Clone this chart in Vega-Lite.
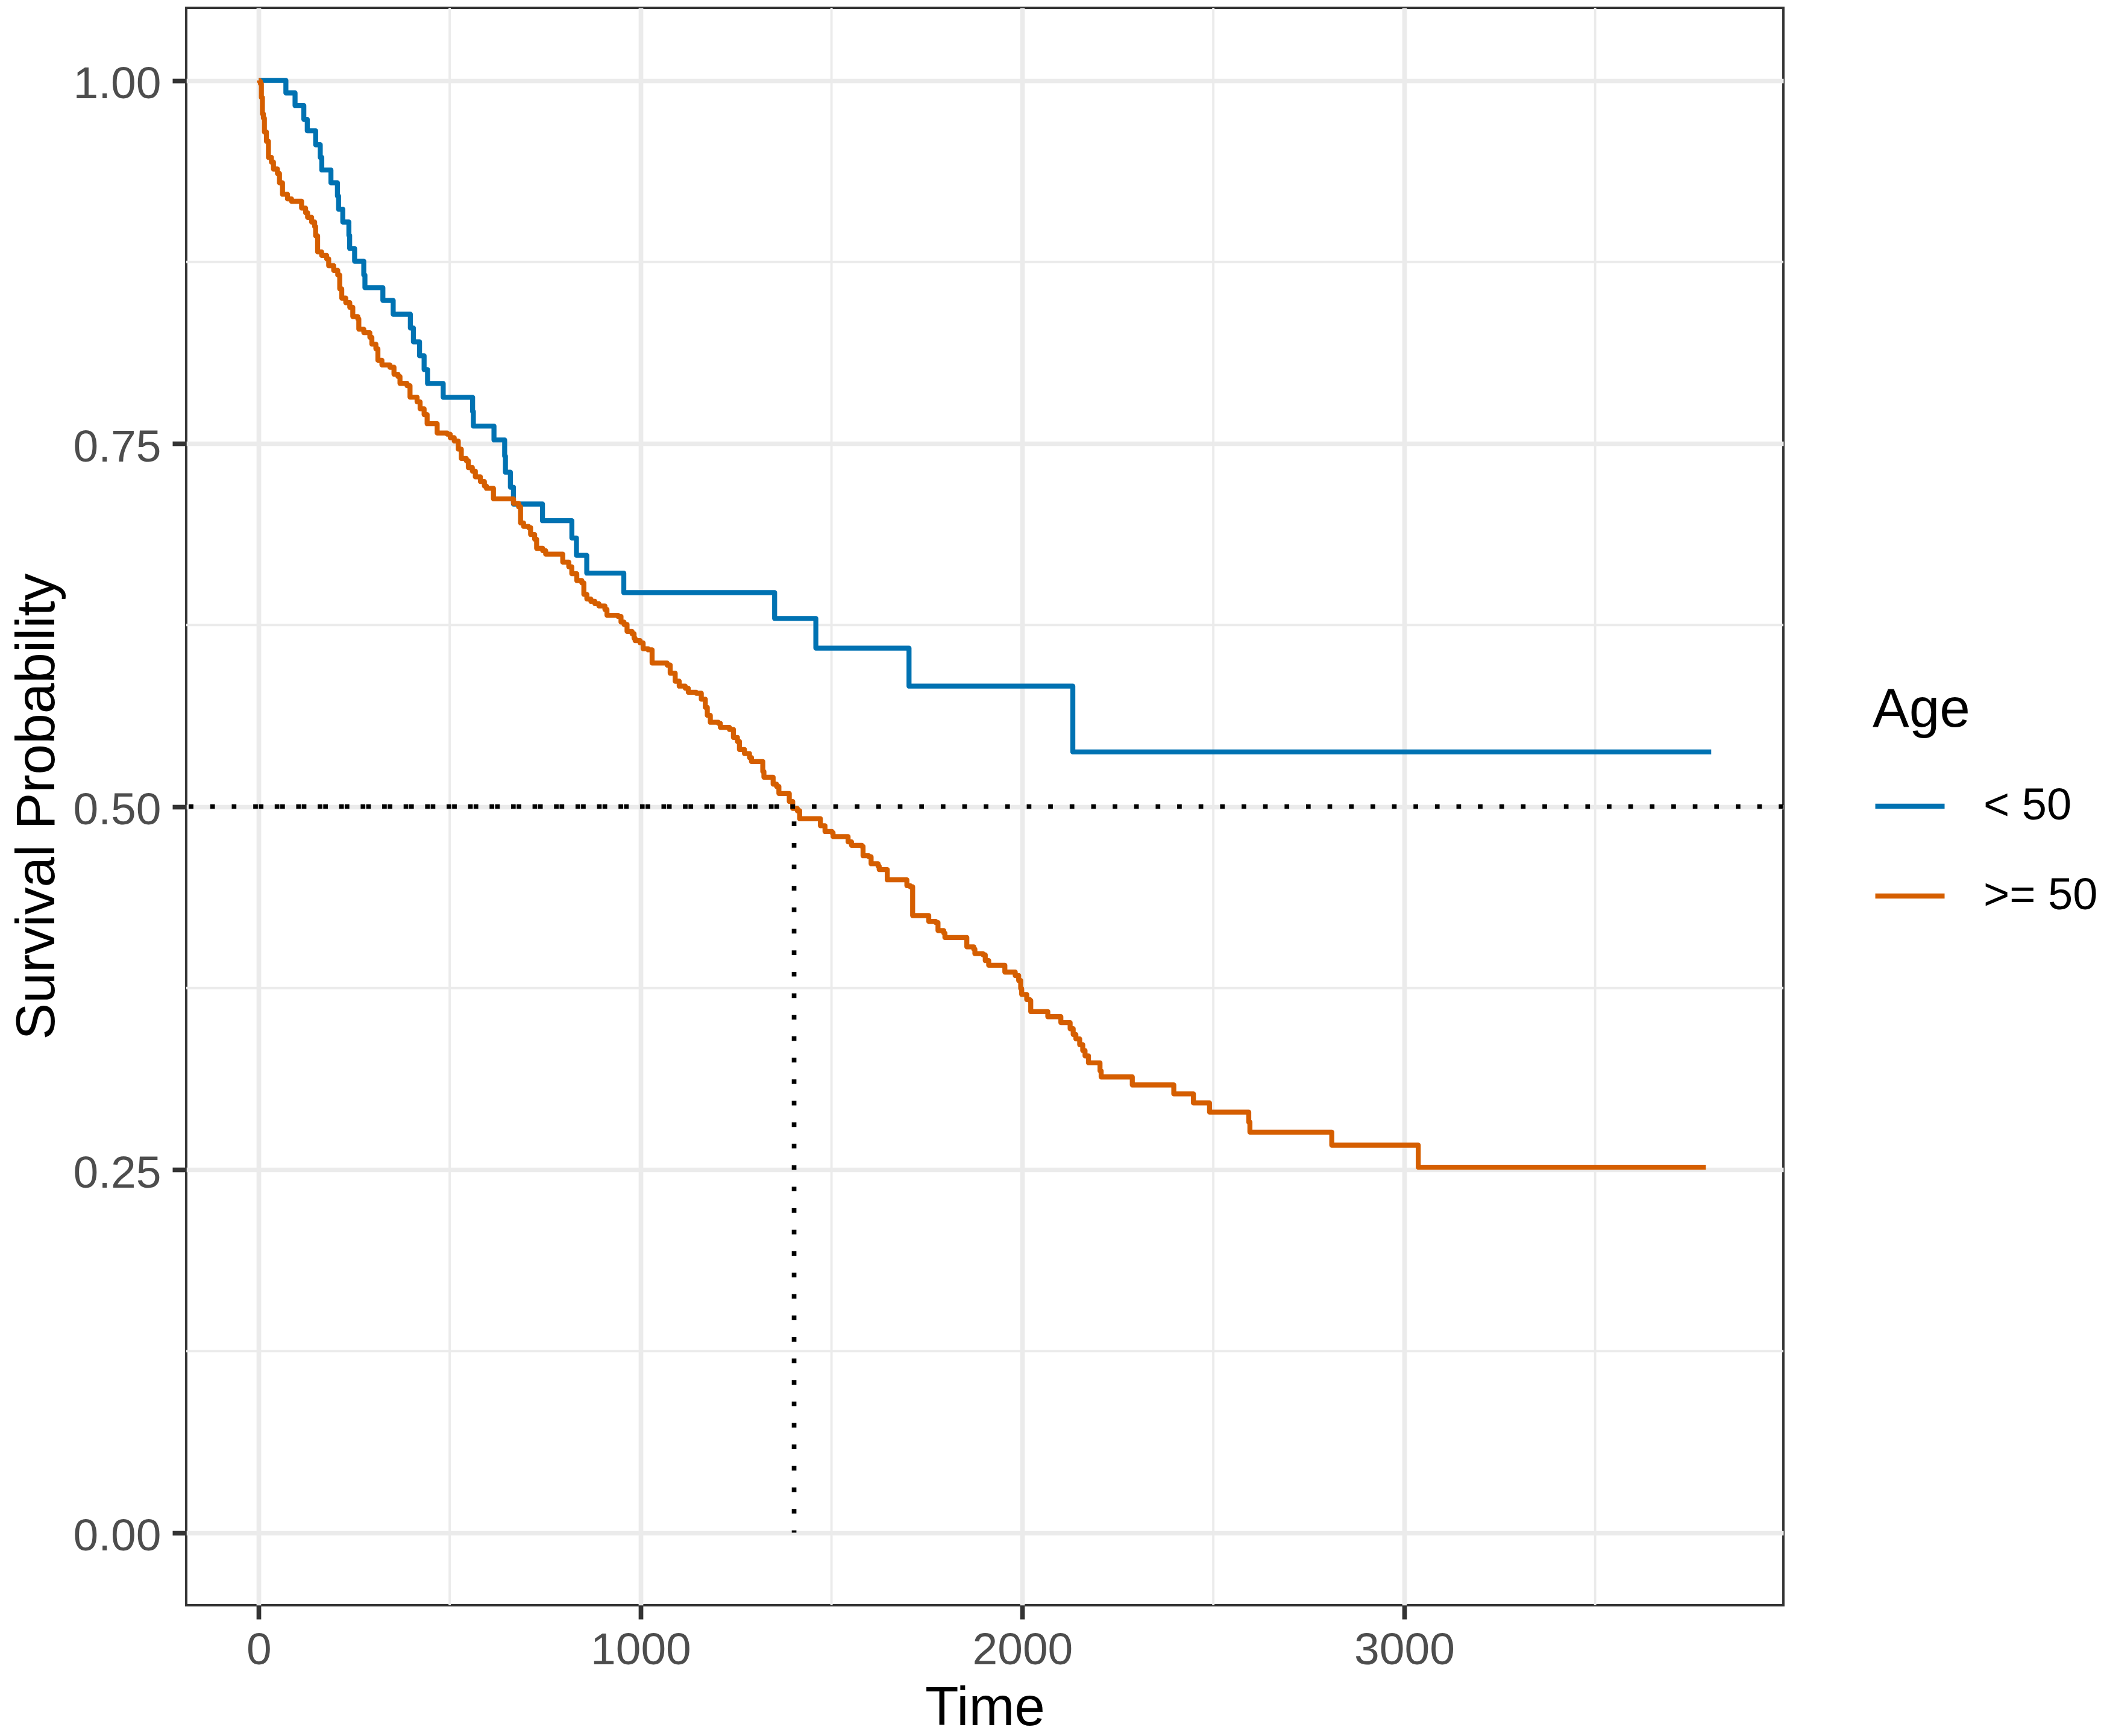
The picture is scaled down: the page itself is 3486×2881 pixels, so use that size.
{
  "$schema": "https://vega.github.io/schema/vega-lite/v6.json",
  "autosize": {"type": "none"},
  "width": 2650,
  "height": 2651,
  "padding": {"left": 309, "top": 13, "right": 527, "bottom": 217},
  "background": "white",
  "config": {
    "view": {"stroke": "#333333", "strokeWidth": 3.9},
    "font": "Liberation Sans",
    "axis": {
      "domain": false,
      "grid": true,
      "gridColor": "#EBEBEB",
      "gridWidth": 7.7,
      "tickColor": "#333333",
      "tickWidth": 7.7,
      "tickSize": 23,
      "labelFont": "Liberation Sans",
      "labelFontSize": 75,
      "labelColor": "#4D4D4D",
      "labelLimit": 1000,
      "titleFont": "Liberation Sans",
      "titleFontSize": 91,
      "titleFontWeight": "normal",
      "titleColor": "#000000",
      "titleLimit": 3000
    },
    "legend": {
      "titleFont": "Liberation Sans",
      "titleFontSize": 91,
      "titleFontWeight": "normal",
      "titleColor": "#000000",
      "labelFont": "Liberation Sans",
      "labelFontSize": 74,
      "labelColor": "#000000",
      "labelLimit": 1000
    }
  },
  "datasets": {
    "km": [
      {"g": "< 50", "t": 0, "S": 1.0},
      {"g": "< 50", "t": 71, "S": 0.9914},
      {"g": "< 50", "t": 95, "S": 0.9827},
      {"g": "< 50", "t": 118, "S": 0.9732},
      {"g": "< 50", "t": 127, "S": 0.9653},
      {"g": "< 50", "t": 149, "S": 0.9557},
      {"g": "< 50", "t": 161, "S": 0.947},
      {"g": "< 50", "t": 165, "S": 0.9383},
      {"g": "< 50", "t": 189, "S": 0.9295},
      {"g": "< 50", "t": 206, "S": 0.9204},
      {"g": "< 50", "t": 209, "S": 0.9113},
      {"g": "< 50", "t": 220, "S": 0.9025},
      {"g": "< 50", "t": 236, "S": 0.8933},
      {"g": "< 50", "t": 238, "S": 0.8843},
      {"g": "< 50", "t": 251, "S": 0.8755},
      {"g": "< 50", "t": 275, "S": 0.866},
      {"g": "< 50", "t": 278, "S": 0.8573},
      {"g": "< 50", "t": 325, "S": 0.8485},
      {"g": "< 50", "t": 352, "S": 0.839},
      {"g": "< 50", "t": 397, "S": 0.8295},
      {"g": "< 50", "t": 405, "S": 0.82},
      {"g": "< 50", "t": 421, "S": 0.8104},
      {"g": "< 50", "t": 433, "S": 0.8009},
      {"g": "< 50", "t": 442, "S": 0.7913},
      {"g": "< 50", "t": 483, "S": 0.7818},
      {"g": "< 50", "t": 560, "S": 0.772},
      {"g": "< 50", "t": 562, "S": 0.762},
      {"g": "< 50", "t": 616, "S": 0.7524},
      {"g": "< 50", "t": 644, "S": 0.7413},
      {"g": "< 50", "t": 646, "S": 0.7302},
      {"g": "< 50", "t": 659, "S": 0.7199},
      {"g": "< 50", "t": 667, "S": 0.7083},
      {"g": "< 50", "t": 743, "S": 0.6968},
      {"g": "< 50", "t": 820, "S": 0.6849},
      {"g": "< 50", "t": 832, "S": 0.673},
      {"g": "< 50", "t": 859, "S": 0.6607},
      {"g": "< 50", "t": 956, "S": 0.6473},
      {"g": "< 50", "t": 1351, "S": 0.6295},
      {"g": "< 50", "t": 1459, "S": 0.6091},
      {"g": "< 50", "t": 1703, "S": 0.5829},
      {"g": "< 50", "t": 2132, "S": 0.5376},
      {"g": "< 50", "t": 3804, "S": 0.5376},
      {"g": ">= 50", "t": 0, "S": 1.0},
      {"g": ">= 50", "t": 1.6, "S": 0.9994},
      {"g": ">= 50", "t": 4.2, "S": 0.9978},
      {"g": ">= 50", "t": 6.8, "S": 0.9883},
      {"g": ">= 50", "t": 9.5, "S": 0.977},
      {"g": ">= 50", "t": 12.1, "S": 0.974},
      {"g": ">= 50", "t": 14.7, "S": 0.9645},
      {"g": ">= 50", "t": 20, "S": 0.9581},
      {"g": ">= 50", "t": 25.3, "S": 0.947},
      {"g": ">= 50", "t": 33.1, "S": 0.9438},
      {"g": ">= 50", "t": 38.4, "S": 0.939},
      {"g": ">= 50", "t": 48.9, "S": 0.9359},
      {"g": ">= 50", "t": 54.2, "S": 0.9295},
      {"g": ">= 50", "t": 62.1, "S": 0.9216},
      {"g": ">= 50", "t": 75.2, "S": 0.9184},
      {"g": ">= 50", "t": 85.8, "S": 0.9168},
      {"g": ">= 50", "t": 112.1, "S": 0.9121},
      {"g": ">= 50", "t": 122.6, "S": 0.9089},
      {"g": ">= 50", "t": 127.8, "S": 0.9057},
      {"g": ">= 50", "t": 138.4, "S": 0.9025},
      {"g": ">= 50", "t": 146.3, "S": 0.8994},
      {"g": ">= 50", "t": 148.9, "S": 0.893},
      {"g": ">= 50", "t": 154.1, "S": 0.8819},
      {"g": ">= 50", "t": 164.7, "S": 0.8795},
      {"g": ">= 50", "t": 177.8, "S": 0.8771},
      {"g": ">= 50", "t": 183.1, "S": 0.8724},
      {"g": ">= 50", "t": 196.2, "S": 0.8692},
      {"g": ">= 50", "t": 206.8, "S": 0.866},
      {"g": ">= 50", "t": 212, "S": 0.8565},
      {"g": ">= 50", "t": 217.3, "S": 0.8501},
      {"g": ">= 50", "t": 227.8, "S": 0.847},
      {"g": ">= 50", "t": 238.3, "S": 0.8438},
      {"g": ">= 50", "t": 246.2, "S": 0.8374},
      {"g": ">= 50", "t": 259.4, "S": 0.8358},
      {"g": ">= 50", "t": 262, "S": 0.8287},
      {"g": ">= 50", "t": 275.1, "S": 0.8263},
      {"g": ">= 50", "t": 290.9, "S": 0.8231},
      {"g": ">= 50", "t": 296.2, "S": 0.8184},
      {"g": ">= 50", "t": 306.7, "S": 0.8152},
      {"g": ">= 50", "t": 312, "S": 0.8073},
      {"g": ">= 50", "t": 322.5, "S": 0.8041},
      {"g": ">= 50", "t": 343.5, "S": 0.8025},
      {"g": ">= 50", "t": 354.1, "S": 0.7977},
      {"g": ">= 50", "t": 364.6, "S": 0.7961},
      {"g": ">= 50", "t": 369.8, "S": 0.7914},
      {"g": ">= 50", "t": 388.3, "S": 0.7898},
      {"g": ">= 50", "t": 396.1, "S": 0.7819},
      {"g": ">= 50", "t": 414.6, "S": 0.7787},
      {"g": ">= 50", "t": 422.5, "S": 0.7739},
      {"g": ">= 50", "t": 433, "S": 0.7699},
      {"g": ">= 50", "t": 440.9, "S": 0.7636},
      {"g": ">= 50", "t": 467.2, "S": 0.7572},
      {"g": ">= 50", "t": 493.5, "S": 0.7564},
      {"g": ">= 50", "t": 501.4, "S": 0.754},
      {"g": ">= 50", "t": 511.9, "S": 0.7517},
      {"g": ">= 50", "t": 522.5, "S": 0.7461},
      {"g": ">= 50", "t": 530.4, "S": 0.7397},
      {"g": ">= 50", "t": 543.5, "S": 0.7381},
      {"g": ">= 50", "t": 548.8, "S": 0.7334},
      {"g": ">= 50", "t": 559.3, "S": 0.731},
      {"g": ">= 50", "t": 567.2, "S": 0.727},
      {"g": ">= 50", "t": 580.4, "S": 0.7238},
      {"g": ">= 50", "t": 590.9, "S": 0.7207},
      {"g": ">= 50", "t": 596.2, "S": 0.7191},
      {"g": ">= 50", "t": 614.6, "S": 0.7119},
      {"g": ">= 50", "t": 667.2, "S": 0.7088},
      {"g": ">= 50", "t": 680.4, "S": 0.7064},
      {"g": ">= 50", "t": 685.6, "S": 0.6953},
      {"g": ">= 50", "t": 693.5, "S": 0.6929},
      {"g": ">= 50", "t": 706.7, "S": 0.6921},
      {"g": ">= 50", "t": 711.9, "S": 0.6873},
      {"g": ">= 50", "t": 722.5, "S": 0.6841},
      {"g": ">= 50", "t": 727.7, "S": 0.6778},
      {"g": ">= 50", "t": 743.5, "S": 0.6762},
      {"g": ">= 50", "t": 751.4, "S": 0.6738},
      {"g": ">= 50", "t": 796.1, "S": 0.6683},
      {"g": ">= 50", "t": 811.9, "S": 0.6651},
      {"g": ">= 50", "t": 819.8, "S": 0.6603},
      {"g": ">= 50", "t": 832.9, "S": 0.6556},
      {"g": ">= 50", "t": 846.1, "S": 0.654},
      {"g": ">= 50", "t": 851.4, "S": 0.6461},
      {"g": ">= 50", "t": 859.2, "S": 0.6429},
      {"g": ">= 50", "t": 869.8, "S": 0.6413},
      {"g": ">= 50", "t": 880.3, "S": 0.6397},
      {"g": ">= 50", "t": 890.8, "S": 0.6381},
      {"g": ">= 50", "t": 906.6, "S": 0.6357},
      {"g": ">= 50", "t": 911.9, "S": 0.6317},
      {"g": ">= 50", "t": 940.8, "S": 0.6309},
      {"g": ">= 50", "t": 948.7, "S": 0.627},
      {"g": ">= 50", "t": 956.6, "S": 0.6254},
      {"g": ">= 50", "t": 964.5, "S": 0.6206},
      {"g": ">= 50", "t": 977.6, "S": 0.619},
      {"g": ">= 50", "t": 982.9, "S": 0.6159},
      {"g": ">= 50", "t": 985.5, "S": 0.6143},
      {"g": ">= 50", "t": 998.7, "S": 0.6127},
      {"g": ">= 50", "t": 1006.6, "S": 0.6087},
      {"g": ">= 50", "t": 1019.7, "S": 0.6079},
      {"g": ">= 50", "t": 1030.1, "S": 0.5988},
      {"g": ">= 50", "t": 1069.6, "S": 0.5974},
      {"g": ">= 50", "t": 1077.5, "S": 0.5918},
      {"g": ">= 50", "t": 1090.6, "S": 0.5863},
      {"g": ">= 50", "t": 1101.1, "S": 0.5829},
      {"g": ">= 50", "t": 1116.9, "S": 0.5815},
      {"g": ">= 50", "t": 1124.8, "S": 0.5787},
      {"g": ">= 50", "t": 1145.8, "S": 0.578},
      {"g": ">= 50", "t": 1159, "S": 0.5739},
      {"g": ">= 50", "t": 1169.5, "S": 0.5683},
      {"g": ">= 50", "t": 1174.7, "S": 0.5628},
      {"g": ">= 50", "t": 1182.6, "S": 0.558},
      {"g": ">= 50", "t": 1203.7, "S": 0.5573},
      {"g": ">= 50", "t": 1208.9, "S": 0.5545},
      {"g": ">= 50", "t": 1232.6, "S": 0.5531},
      {"g": ">= 50", "t": 1243.1, "S": 0.5476},
      {"g": ">= 50", "t": 1253.6, "S": 0.5448},
      {"g": ">= 50", "t": 1258.9, "S": 0.5393},
      {"g": ">= 50", "t": 1272, "S": 0.5365},
      {"g": ">= 50", "t": 1285.2, "S": 0.5337},
      {"g": ">= 50", "t": 1290.4, "S": 0.531},
      {"g": ">= 50", "t": 1320, "S": 0.5241},
      {"g": ">= 50", "t": 1323, "S": 0.5202},
      {"g": ">= 50", "t": 1347.1, "S": 0.5154},
      {"g": ">= 50", "t": 1356.2, "S": 0.5138},
      {"g": ">= 50", "t": 1362.2, "S": 0.509},
      {"g": ">= 50", "t": 1389.4, "S": 0.5035},
      {"g": ">= 50", "t": 1398.4, "S": 0.4987},
      {"g": ">= 50", "t": 1410.5, "S": 0.4971},
      {"g": ">= 50", "t": 1416.6, "S": 0.4916},
      {"g": ">= 50", "t": 1470.9, "S": 0.4868},
      {"g": ">= 50", "t": 1483, "S": 0.4828},
      {"g": ">= 50", "t": 1501.1, "S": 0.482},
      {"g": ">= 50", "t": 1504.1, "S": 0.4793},
      {"g": ">= 50", "t": 1543.4, "S": 0.4757},
      {"g": ">= 50", "t": 1552.4, "S": 0.4733},
      {"g": ">= 50", "t": 1579.6, "S": 0.4725},
      {"g": ">= 50", "t": 1582.6, "S": 0.4661},
      {"g": ">= 50", "t": 1597.7, "S": 0.4654},
      {"g": ">= 50", "t": 1603.7, "S": 0.4606},
      {"g": ">= 50", "t": 1621.9, "S": 0.459},
      {"g": ">= 50", "t": 1624.9, "S": 0.4566},
      {"g": ">= 50", "t": 1646, "S": 0.4495},
      {"g": ">= 50", "t": 1697.4, "S": 0.4455},
      {"g": ">= 50", "t": 1706.4, "S": 0.4447},
      {"g": ">= 50", "t": 1712.5, "S": 0.4249},
      {"g": ">= 50", "t": 1754.7, "S": 0.4209},
      {"g": ">= 50", "t": 1772.9, "S": 0.4201},
      {"g": ">= 50", "t": 1778.9, "S": 0.4146},
      {"g": ">= 50", "t": 1794, "S": 0.4129},
      {"g": ">= 50", "t": 1797, "S": 0.4098},
      {"g": ">= 50", "t": 1854.4, "S": 0.4034},
      {"g": ">= 50", "t": 1872.5, "S": 0.4018},
      {"g": ">= 50", "t": 1875.5, "S": 0.3987},
      {"g": ">= 50", "t": 1896.7, "S": 0.3979},
      {"g": ">= 50", "t": 1902.7, "S": 0.3939},
      {"g": ">= 50", "t": 1911.7, "S": 0.3907},
      {"g": ">= 50", "t": 1954, "S": 0.386},
      {"g": ">= 50", "t": 1981.2, "S": 0.3836},
      {"g": ">= 50", "t": 1990.2, "S": 0.3802},
      {"g": ">= 50", "t": 1995.5, "S": 0.3747},
      {"g": ">= 50", "t": 1998.1, "S": 0.3706},
      {"g": ">= 50", "t": 2011.3, "S": 0.3671},
      {"g": ">= 50", "t": 2019.2, "S": 0.3664},
      {"g": ">= 50", "t": 2021.8, "S": 0.3588},
      {"g": ">= 50", "t": 2066.5, "S": 0.3553},
      {"g": ">= 50", "t": 2100.7, "S": 0.3512},
      {"g": ">= 50", "t": 2125, "S": 0.347},
      {"g": ">= 50", "t": 2133, "S": 0.343},
      {"g": ">= 50", "t": 2140, "S": 0.34},
      {"g": ">= 50", "t": 2150, "S": 0.336},
      {"g": ">= 50", "t": 2158, "S": 0.332},
      {"g": ">= 50", "t": 2164, "S": 0.3283},
      {"g": ">= 50", "t": 2173, "S": 0.3235},
      {"g": ">= 50", "t": 2203.2, "S": 0.318},
      {"g": ">= 50", "t": 2206.2, "S": 0.3138},
      {"g": ">= 50", "t": 2287.8, "S": 0.3083},
      {"g": ">= 50", "t": 2396.5, "S": 0.3021},
      {"g": ">= 50", "t": 2447.9, "S": 0.2959},
      {"g": ">= 50", "t": 2490.1, "S": 0.2896},
      {"g": ">= 50", "t": 2592.8, "S": 0.2827},
      {"g": ">= 50", "t": 2595.8, "S": 0.2758},
      {"g": ">= 50", "t": 2810.2, "S": 0.2668},
      {"g": ">= 50", "t": 3036.7, "S": 0.2516},
      {"g": ">= 50", "t": 3790, "S": 0.2516}
    ],
    "minorX": [{"t": 500}, {"t": 1500}, {"t": 2500}, {"t": 3500}],
    "minorY": [{"S": 0.125}, {"S": 0.375}, {"S": 0.625}, {"S": 0.875}],
    "half": [{"S": 0.5}],
    "median": [{"t": 0, "t2": 1402, "S": 0.5, "S2": 0}]
  },
  "layer": [
    {
      "data": {"name": "minorX"},
      "mark": {"type": "rule", "color": "#EBEBEB", "strokeWidth": 3.85},
      "encoding": {
        "x": {"field": "t", "type": "quantitative", "scale": {"domain": [-190, 3993], "nice": false, "zero": false},
              "axis": {"values": [0, 1000, 2000, 3000], "format": "d", "title": "Time", "labelPadding": 15, "titleX": 1325, "titleY": 198, "titleBaseline": "alphabetic", "titleAlign": "center", "titleAnchor": null}}
      }
    },
    {
      "data": {"name": "minorY"},
      "mark": {"type": "rule", "color": "#EBEBEB", "strokeWidth": 3.85},
      "encoding": {
        "y": {"field": "S", "type": "quantitative", "scale": {"domain": [-0.05, 1.05], "nice": false, "zero": false},
              "axis": {"values": [0, 0.25, 0.5, 0.75, 1], "format": ".2f", "title": "Survival Probability", "labelPadding": 19, "labelOffset": 6, "titleX": -220, "titleY": 1325, "titleAngle": 270, "titleBaseline": "alphabetic", "titleAlign": "center", "titleAnchor": null}}
      }
    },
    {
      "data": {"name": "km"},
      "mark": {"type": "line", "interpolate": "step-after", "strokeWidth": 8.3, "strokeJoin": "round", "strokeCap": "butt"},
      "encoding": {
        "x": {"field": "t", "type": "quantitative", "scale": {"domain": [-190, 3993], "nice": false, "zero": false},
              "axis": {"values": [0, 1000, 2000, 3000], "format": "d", "title": "Time", "labelPadding": 15, "titleX": 1325, "titleY": 198, "titleBaseline": "alphabetic", "titleAlign": "center", "titleAnchor": null}},
        "y": {"field": "S", "type": "quantitative", "scale": {"domain": [-0.05, 1.05], "nice": false, "zero": false},
              "axis": {"values": [0, 0.25, 0.5, 0.75, 1], "format": ".2f", "title": "Survival Probability", "labelPadding": 19, "labelOffset": 6, "titleX": -220, "titleY": 1325, "titleAngle": 270, "titleBaseline": "alphabetic", "titleAlign": "center", "titleAnchor": null}},
        "color": {"field": "g", "type": "nominal",
                  "scale": {"domain": ["< 50", ">= 50"], "range": ["#0072B2", "#D55E00"]},
                  "legend": {"title": "Age", "orient": "none", "legendX": 2798, "legendY": 1121, "padding": 0,
                             "symbolType": "stroke", "symbolSize": 13225, "symbolStrokeWidth": 8.3,
                             "labelOffset": 60, "titlePadding": 51, "rowPadding": 50}}
      }
    },
    {
      "data": {"name": "half"},
      "mark": {"type": "rule", "color": "#000000", "strokeWidth": 7.7, "strokeDash": [7.7, 27.95], "strokeCap": "butt"},
      "encoding": {
        "y": {"field": "S", "type": "quantitative"}
      }
    },
    {
      "data": {"name": "median"},
      "mark": {"type": "rule", "color": "#000000", "strokeWidth": 7.7, "strokeDash": [7.7, 27.95], "strokeCap": "butt"},
      "encoding": {
        "x": {"field": "t", "type": "quantitative"},
        "x2": {"field": "t2"},
        "y": {"field": "S", "type": "quantitative"}
      }
    },
    {
      "data": {"name": "median"},
      "mark": {"type": "rule", "color": "#000000", "strokeWidth": 7.7, "strokeDash": [7.7, 27.95], "strokeDashOffset": 10.8, "strokeCap": "butt"},
      "encoding": {
        "x": {"field": "t2", "type": "quantitative"},
        "y": {"field": "S", "type": "quantitative"},
        "y2": {"field": "S2"}
      }
    }
  ]
}
